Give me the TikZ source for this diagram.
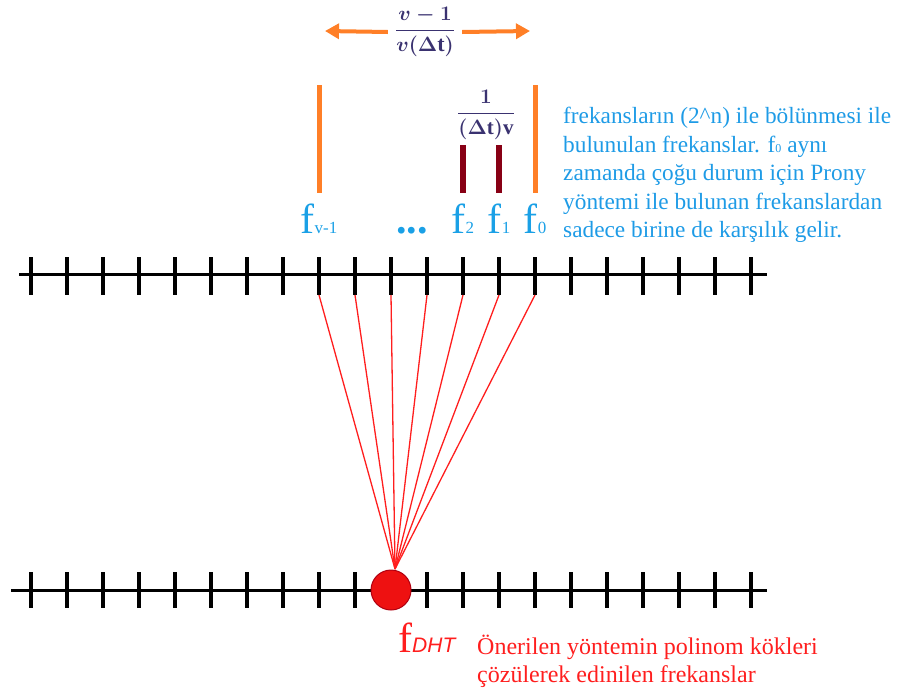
\documentclass[tikz,border=0pt]{standalone}
\usepackage{amsmath}
\usepackage{fontspec}
\setmainfont{Liberation Serif}
\newfontfamily\dhtfont{Liberation Sans}
\usetikzlibrary{arrows.meta}
\definecolor{freqB}{HTML}{1AA0E6}
\definecolor{noteB}{HTML}{1E9BE6}
\definecolor{spanO}{HTML}{FF7F27}
\definecolor{stepR}{HTML}{880015}
\definecolor{rootR}{HTML}{FF1E1E}
\definecolor{dotF}{HTML}{EE1111}
\definecolor{dotD}{HTML}{B00010}
\definecolor{mathI}{HTML}{3A3270}
\tikzset{
  axis/.style={line width=3pt, draw=black},
  tick/.style={line width=4pt, draw=black},
  spanbar/.style={line width=5pt, draw=spanO},
  stepbar/.style={line width=6pt, draw=stepR},
  spanarr/.style={-{Triangle[length=14pt,width=15pt]}, line width=4pt, draw=spanO},
  fan/.style={line width=1.3pt, draw=rootR},
  flabel/.style={text=freqB, font=\fontsize{42}{42}\selectfont, anchor=base,
                 inner sep=0pt},
  note/.style={align=left, inner sep=0pt, anchor=north west},
  ratio/.style={text=mathI, inner sep=1pt},
}
\newcommand{\fsub}[1]{f{\fontsize{17}{17}\selectfont #1}}

\begin{document}
\begin{tikzpicture}[x=1pt,y=-1pt]
  \useasboundingbox (0,0) rectangle (899,697);

  % upper axis, one coordinate below each tick
  \draw[axis] (19,274) -- (767,274);
  \foreach \i in {0,...,20} {
    \coordinate (t\i) at (31+36*\i,295);
    \draw[tick] (31+36*\i,257) -- (t\i);
  }
  % lower axis, the root sits where the 11th tick would be
  \draw[axis] (11,590) -- (767,590);
  \foreach \i in {0,...,9,11,12,...,20}
    \draw[tick] (31+36*\i,572) -- (31+36*\i,608);

  \coordinate (hub) at (395,569);
  \foreach \i in {8,...,14}
    \draw[fan] (t\i) -- (hub);
  \node[circle, fill=dotF, draw=dotD, line width=1pt, minimum size=40pt,
        inner sep=0pt] (dht) at (391,590) {};

  % bars above the labelled ticks
  \draw[spanbar] (319,85) -- (319,193);
  \draw[spanbar] (535,85) -- (535,193);
  \draw[stepbar] (463,145) -- (463,193);
  \draw[stepbar] (499,145) -- (499,193);

  \node[flabel] (fv) at (319,233) {\fsub{v-1}};
  \node[flabel, font=\fontsize{42}{42}\selectfont\bfseries] (dots) at (412,233) {...};
  \node[flabel] (f2) at (463,233) {\fsub{2}};
  \node[flabel] (f1) at (499,233) {\fsub{1}};
  \node[flabel] (f0) at (535,233) {\fsub{0}};

  % spacing of the outer pair and of two neighbours
  \node[ratio, font=\fontsize{22}{26}\selectfont\boldmath, inner sep=7pt] (wide)
    at (425,32) {$\dfrac{v-1}{v(\Delta\mathrm{t})}$};
  \coordinate (wl) at (325,31);
  \coordinate (wr) at (530,31);
  \draw[spanarr] (wide.west) -- (wl);
  \draw[spanarr] (wide.east) -- (wr);
  \node[ratio, font=\fontsize{21}{24}\selectfont\boldmath] (narrow)
    at (486,115) {$\dfrac{1}{(\Delta\mathrm{t})\mathrm{v}}$};

  \node[note, text=noteB, font=\fontsize{23.3}{28.5}\selectfont] (prony)
    at (563,107) {frekansların (2\textasciicircum n) ile bölünmesi ile\\
    bulunulan frekanslar. f{\fontsize{12}{12}\selectfont 0} aynı\\
    zamanda çoğu durum için Prony\\
    yöntemi ile bulunan frekanslardan\\
    sadece birine de karşılık gelir.};

  \node[flabel, text=rootR, anchor=base west] (fdht) at (398,652)
    {f{\dhtfont\itshape\fontsize{21}{21}\selectfont DHT}};
  \node[note, text=rootR, font=\fontsize{24}{28}\selectfont] (rootnote)
    at (477,635) {Önerilen yöntemin polinom kökleri\\
    çözülerek edinilen frekanslar};
\end{tikzpicture}
\end{document}
